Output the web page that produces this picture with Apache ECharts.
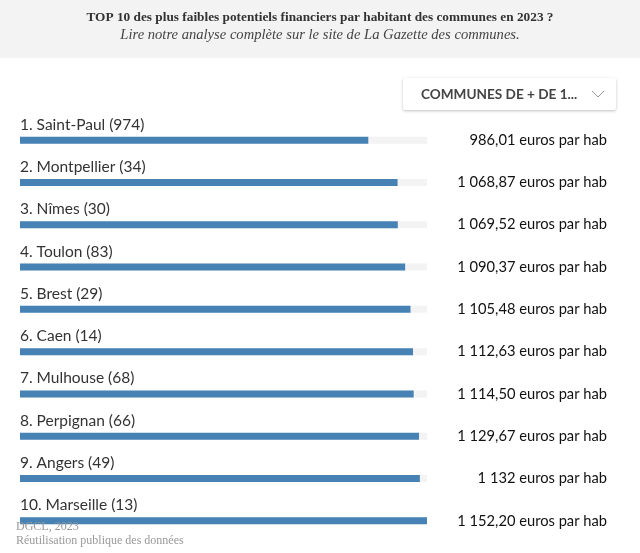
<!DOCTYPE html>
<html><head><meta charset="utf-8">
<script src="https://cdn.jsdelivr.net/npm/echarts@6/dist/echarts.min.js"></script>
<style>html,body{margin:0;padding:0;background:#fff}#c{width:640px;height:553px}</style>
</head><body><div id="c"></div>
<script>
const communes = ["1. Saint-Paul (974)","2. Montpellier (34)","3. Nîmes (30)","4. Toulon (83)","5. Brest (29)","6. Caen (14)","7. Mulhouse (68)","8. Perpignan (66)","9. Angers (49)","10. Marseille (13)"];
const values = [986.01,1068.87,1069.52,1090.37,1105.48,1112.63,1114.50,1129.67,1132,1152.20];
const valueLabels = ["986,01","1 068,87","1 069,52","1 090,37","1 105,48","1 112,63","1 114,50","1 129,67","1 132","1 152,20"];
const unit = " euros par hab";

const chart = echarts.init(document.getElementById('c'));
chart.setOption({
  animation:false,
  graphic:[
    {type:'rect',left:0,top:0,shape:{width:640,height:58},style:{fill:'#f3f3f3'},z:0},
    {type:'text',left:'center',top:11,style:{text:'TOP 10 des plus faibles potentiels financiers par habitant des communes en 2023 ?',font:'bold 13.3px "Liberation Serif"',fill:'#333'}},
    {type:'text',left:'center',top:28,style:{text:'Lire notre analyse complète sur le site de La Gazette des communes.',font:'italic 14.6px "Liberation Serif"',fill:'#444'}},
    {type:'rect',left:403,top:78,shape:{width:213,height:32,r:2},style:{fill:'#fff',shadowBlur:3,shadowColor:'rgba(0,0,0,0.25)',shadowOffsetY:1}},
    {type:'text',left:421,top:88,style:{text:'COMMUNES DE + DE 1...',font:'bold 13.6px Lato',fill:'#444'}},
    {type:'polyline',shape:{points:[[592,91],[598,97],[604,91]]},style:{stroke:'#999',lineWidth:1,fill:null}},
    {type:'text',left:16,top:521,style:{text:'DGCL, 2023',font:'12px "Liberation Serif"',fill:'#999'},z:10},
    {type:'text',left:16,top:535,style:{text:'Réutilisation publique des données',font:'12px "Liberation Serif"',fill:'#999'},z:10}
  ],
  grid:{left:20,right:213,top:119,bottom:11},
  xAxis:{type:'value',min:0,max:Math.max(...values),show:false},
  yAxis:[
    {type:'category',data:communes,inverse:true,axisLine:{show:false},axisTick:{show:false},axisLabel:{show:false}},
    {type:'category',data:communes,inverse:true,position:'right',axisLine:{show:false},axisTick:{show:false},
     axisLabel:{margin:180,align:'right',formatter:(v,i)=>valueLabels[i]+unit,fontFamily:'Lato',fontSize:14.7,color:'#111'}}
  ],
  series:[{
    type:'bar',data:values,barWidth:7,yAxisIndex:0,
    itemStyle:{color:'#4682b4'},
    showBackground:true,backgroundStyle:{color:'#f3f3f3'},
    label:{show:true,position:[0,-4],align:'left',verticalAlign:'bottom',formatter:p=>communes[p.dataIndex],fontFamily:'Lato',fontSize:15.5,color:'#333'}
  }]
});
</script></body></html>
